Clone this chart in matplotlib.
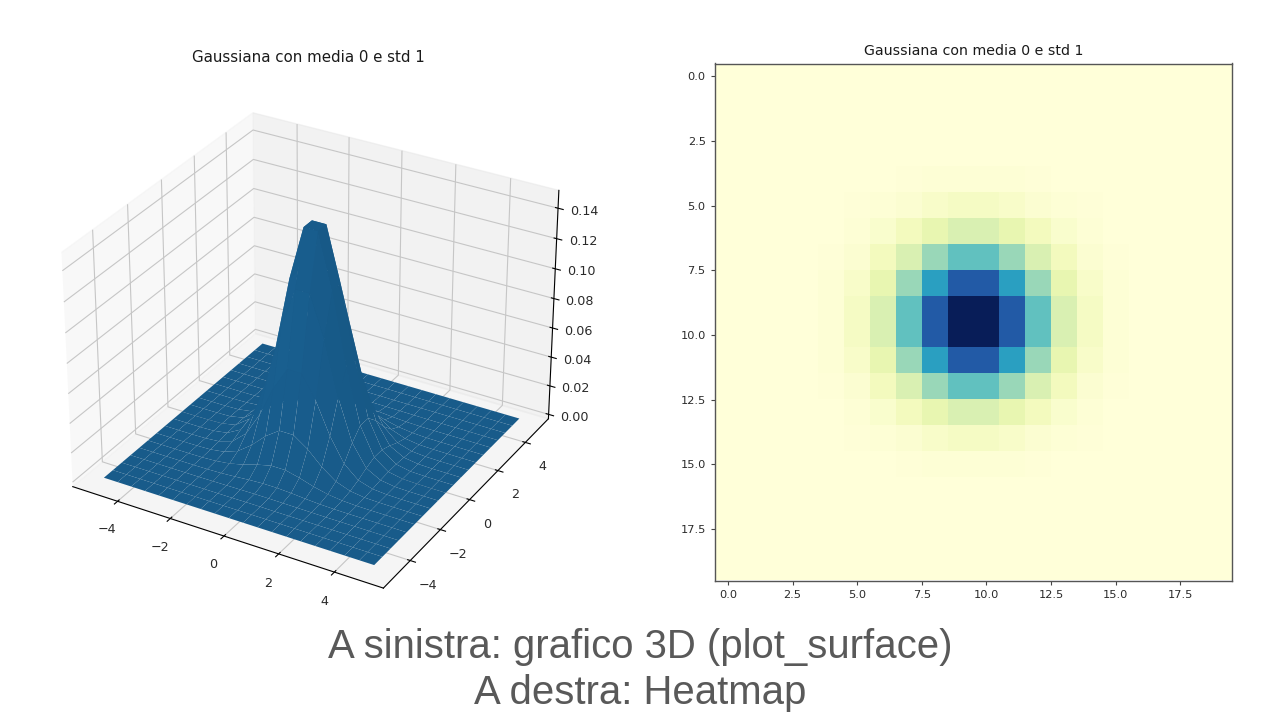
import numpy as np
import matplotlib
matplotlib.use("Agg")
import matplotlib.pyplot as plt

TITLE = "Gaussiana con media 0 e std 1"
CAPTION = ["A sinistra: grafico 3D (plot_surface)", "A destra: Heatmap"]

axis_vals = [-5.0, -4.474, -3.947, -3.421, -2.895, -2.368, -1.842, -1.316, -0.789, -0.263,
             0.263, 0.789, 1.316, 1.842, 2.368, 2.895, 3.421, 3.947, 4.474, 5.0]

density = [
    [0, 0, 0, 0, 0, 0, 0, 0, 0, 0, 0, 0, 0, 0, 0, 0, 0, 0, 0, 0],
    [0, 0, 0, 0, 0, 0, 0, 0, 0, 0, 0, 0, 0, 0, 0, 0, 0, 0, 0, 0],
    [0, 0, 0, 0, 0, 0, 0, 0, 0, .0001, .0001, 0, 0, 0, 0, 0, 0, 0, 0, 0],
    [0, 0, 0, 0, 0, 0, .0001, .0002, .0003, .0004, .0004, .0003, .0002, .0001, 0, 0, 0, 0, 0, 0],
    [0, 0, 0, 0, 0, .0001, .0004, .0010, .0018, .0023, .0023, .0018, .0010, .0004, .0001, 0, 0, 0, 0, 0],
    [0, 0, 0, 0, .0001, .0006, .0018, .0040, .0070, .0093, .0093, .0070, .0040, .0018, .0006, .0001, 0, 0, 0, 0],
    [0, 0, 0, .0001, .0004, .0018, .0053, .0123, .0214, .0281, .0281, .0214, .0123, .0053, .0018, .0004, .0001, 0, 0, 0],
    [0, 0, 0, .0002, .0010, .0040, .0123, .0282, .0491, .0647, .0647, .0491, .0282, .0123, .0040, .0010, .0002, 0, 0, 0],
    [0, 0, 0, .0003, .0018, .0070, .0214, .0491, .0855, .1127, .1127, .0855, .0491, .0214, .0070, .0018, .0003, 0, 0, 0],
    [0, 0, .0001, .0004, .0023, .0093, .0281, .0647, .1127, .1485, .1485, .1127, .0647, .0281, .0093, .0023, .0004, .0001, 0, 0],
    [0, 0, .0001, .0004, .0023, .0093, .0281, .0647, .1127, .1485, .1485, .1127, .0647, .0281, .0093, .0023, .0004, .0001, 0, 0],
    [0, 0, 0, .0003, .0018, .0070, .0214, .0491, .0855, .1127, .1127, .0855, .0491, .0214, .0070, .0018, .0003, 0, 0, 0],
    [0, 0, 0, .0002, .0010, .0040, .0123, .0282, .0491, .0647, .0647, .0491, .0282, .0123, .0040, .0010, .0002, 0, 0, 0],
    [0, 0, 0, .0001, .0004, .0018, .0053, .0123, .0214, .0281, .0281, .0214, .0123, .0053, .0018, .0004, .0001, 0, 0, 0],
    [0, 0, 0, 0, .0001, .0006, .0018, .0040, .0070, .0093, .0093, .0070, .0040, .0018, .0006, .0001, 0, 0, 0, 0],
    [0, 0, 0, 0, 0, .0001, .0004, .0010, .0018, .0023, .0023, .0018, .0010, .0004, .0001, 0, 0, 0, 0, 0],
    [0, 0, 0, 0, 0, 0, .0001, .0002, .0003, .0004, .0004, .0003, .0002, .0001, 0, 0, 0, 0, 0, 0],
    [0, 0, 0, 0, 0, 0, 0, 0, 0, .0001, .0001, 0, 0, 0, 0, 0, 0, 0, 0, 0],
    [0, 0, 0, 0, 0, 0, 0, 0, 0, 0, 0, 0, 0, 0, 0, 0, 0, 0, 0, 0],
    [0, 0, 0, 0, 0, 0, 0, 0, 0, 0, 0, 0, 0, 0, 0, 0, 0, 0, 0, 0],
]

W, H = 1280, 720
Z = np.array(density)
X, Y = np.meshgrid(axis_vals, axis_vals)

plt.rcParams["grid.color"] = "#c6c6c6"
plt.rcParams["text.color"] = "#1a1a1a"
plt.rcParams["xtick.labelcolor"] = "#2a2a2a"
plt.rcParams["ytick.labelcolor"] = "#2a2a2a"

fig = plt.figure(figsize=(W / 100, H / 100), dpi=100)

# left: surface
ax3d = fig.add_axes([31 / W, 1 - 623 / H, 553 / W, 553 / H], projection="3d")
ax3d.plot_surface(X, Y, Z, color="#1f77b4", linewidth=0, antialiased=True)
ax3d.set_xticks([-4, -2, 0, 2, 4])
ax3d.set_yticks([-4, -2, 0, 2, 4])
ax3d.set_zticks([0, .02, .04, .06, .08, .10, .12, .14])
ax3d.tick_params(labelsize=9.2)
fig.text(308 / W, 1 - 57 / H, TITLE, ha="center", va="center", fontsize=10.85)

# right: heatmap
ax2 = fig.add_axes([715 / W, 1 - 581 / H, 517 / W, 518 / H])
ax2.imshow(Z, cmap="YlGnBu", interpolation="nearest")
ax2.tick_params(labelsize=8.2, color="#444444", length=3.2)
for side in ax2.spines.values():
    side.set_color("#555555")
    side.set_linewidth(1.0)
ax2.set_title(TITLE, fontsize=10.15, pad=6)

fig.text(640 / W, 1 - 647 / H, CAPTION[0], ha="center", va="center", fontsize=28.9,
         color="#595959", family="Liberation Sans")
fig.text(640 / W, 1 - 693 / H, CAPTION[1], ha="center", va="center", fontsize=28.9,
         color="#595959", family="Liberation Sans")

fig.savefig("out.png", dpi=100)
